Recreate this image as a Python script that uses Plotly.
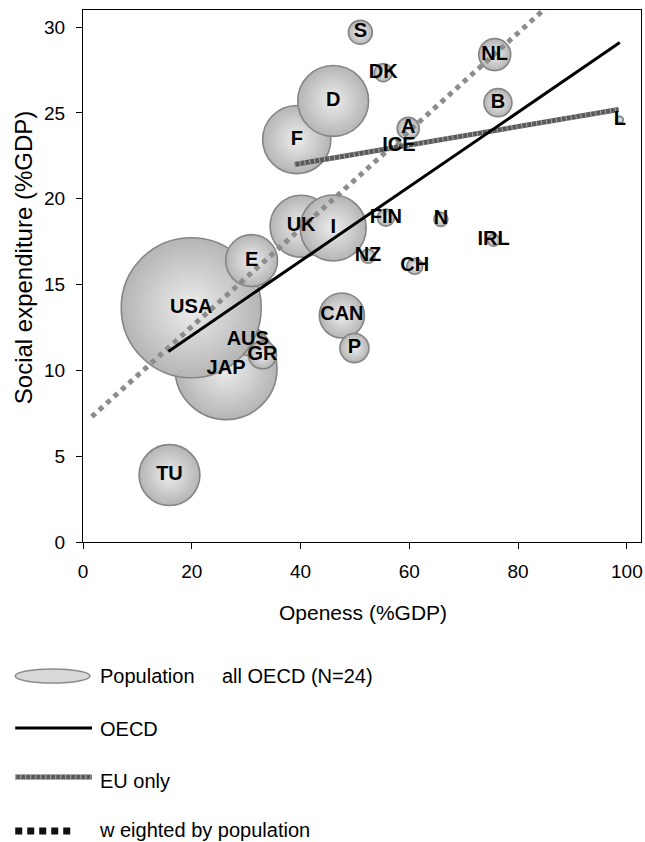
import plotly.graph_objects as go

# ---------------- data ----------------
countries = ["TU", "JAP", "AUS", "GR", "USA", "E", "UK", "I", "F", "D", "CAN", "P",
             "S", "DK", "NL", "B", "A", "ICE", "L", "NZ", "CH", "FIN", "N", "IRL"]
openness = [15.9, 26.3, 30.3, 33.0, 19.9, 31.0, 40.1, 46.0, 39.3, 46.0, 47.6, 49.9,
            51.0, 55.2, 75.7, 76.3, 59.8, 58.1, 98.7, 52.4, 61.0, 55.7, 65.8, 75.5]
social_exp = [3.9, 10.1, 11.75, 10.9, 13.65, 16.4, 18.4, 18.3, 23.45, 25.7, 13.2, 11.3,
              29.7, 27.35, 28.4, 25.6, 24.1, 23.1, 24.6, 16.65, 16.07, 18.9, 18.8, 17.58]
population = [51, 143, 12.4, 10.8, 270, 37, 53, 60, 64, 69, 28, 11.6,
              7.9, 4.5, 14.1, 10.8, 6.7, 0.5, 0.7, 2.7, 3.5, 4.0, 2.7, 2.0]

# fitted lines (end points)
oecd_x = [15.7, 98.7]
oecd_y = [11.1, 29.1]
eu_x = [38.9, 98.5]
eu_y = [22.0, 25.2]
weighted_x = [1.6, 98.7]
weighted_y = [7.3, 35.0]

x_ticks = [0, 20, 40, 60, 80, 100]
y_ticks = [0, 5, 10, 15, 20, 25, 30]

# ---------------- layout helpers ----------------
W, H = 645, 842
L, R, T, B = 83, 2, 10, 300
PW, PH = W - L - R, H - T - B


def px(xp):
    return (xp - L) / PW


def py(yp):
    return (H - B - yp) / PH


FONT = "Liberation Sans, Arial, sans-serif"
MAX_D = 140  # pixel diameter of the largest bubble

fig = go.Figure()

# bubbles
fig.add_trace(go.Scatter(
    x=openness, y=social_exp, mode="markers",
    marker=dict(size=population, sizemode="area",
                sizeref=2.0 * max(population) / MAX_D ** 2,
                color="#b5b5b5",
                gradient=dict(type="radial", color="#ededed"),
                line=dict(color="#858585", width=1.6),
                opacity=1),
    showlegend=False, hoverinfo="skip"))

# weighted-by-population line (square dots)
fig.add_trace(go.Scatter(
    x=weighted_x, y=weighted_y, mode="lines",
    line=dict(color="#8c8c8c", width=5, dash="5px,5px"),
    showlegend=False, hoverinfo="skip"))

# EU only line (textured)
fig.add_trace(go.Scatter(
    x=eu_x, y=eu_y, mode="lines",
    line=dict(color="#5a5a5a", width=5),
    showlegend=False, hoverinfo="skip"))
fig.add_trace(go.Scatter(
    x=eu_x, y=eu_y, mode="lines",
    line=dict(color="#a9a9a9", width=5, dash="1px,4px"),
    showlegend=False, hoverinfo="skip"))

# OECD line
fig.add_trace(go.Scatter(
    x=oecd_x, y=oecd_y, mode="lines",
    line=dict(color="#000000", width=3),
    showlegend=False, hoverinfo="skip"))

# country labels
fig.add_trace(go.Scatter(
    x=openness, y=social_exp, mode="text", text=countries,
    textposition="middle center",
    textfont=dict(family=FONT, size=20, color="#000000", weight="bold"),
    showlegend=False, hoverinfo="skip"))

axis_common = dict(showline=True, linecolor="#000000", linewidth=1, mirror=True,
                   showgrid=False, zeroline=False, ticks="outside", ticklen=6,
                   tickcolor="#000000", tickwidth=1,
                   tickfont=dict(family=FONT, size=19, color="#000000"))

fig.update_xaxes(range=[0, 102.6], tickvals=x_ticks, ticklabelstandoff=6, **axis_common)
fig.update_yaxes(range=[0, 31], tickvals=y_ticks, ticklabelstandoff=7, **axis_common)

annotations = [
    dict(text="Openess (%GDP)", x=px(364), y=py(612), xref="paper", yref="paper",
         showarrow=False, xanchor="center", yanchor="middle",
         font=dict(family=FONT, size=21, color="#000000")),
    dict(text="Social expenditure (%GDP)", x=px(23), y=py(258), xref="paper", yref="paper",
         showarrow=False, xanchor="center", yanchor="middle", textangle=-90,
         font=dict(family=FONT, size=24, color="#000000")),
]

legend_items = [
    ("Population", 98, 676),
    ("all OECD (N=24)", 220, 676),
    ("OECD", 98, 729),
    ("EU only", 98, 781),
    ("w eighted by population", 97, 830),
]
for txt, xp, yp in legend_items:
    annotations.append(dict(text=txt, x=px(xp), y=py(yp), xref="paper", yref="paper",
                            showarrow=False, xanchor="left", yanchor="middle",
                            font=dict(family=FONT, size=20, color="#000000")))

shapes = [
    dict(type="circle", xref="paper", yref="paper",
         x0=px(15), x1=px(90), y0=py(683), y1=py(669),
         fillcolor="#d9d9d9", line=dict(color="#8a8a8a", width=1.5)),
    dict(type="line", xref="paper", yref="paper",
         x0=px(15), x1=px(92), y0=py(728), y1=py(728),
         line=dict(color="#000000", width=3)),
    dict(type="line", xref="paper", yref="paper",
         x0=px(15), x1=px(92), y0=py(777), y1=py(777),
         line=dict(color="#5a5a5a", width=5)),
    dict(type="line", xref="paper", yref="paper",
         x0=px(15), x1=px(92), y0=py(777), y1=py(777),
         line=dict(color="#b0b0b0", width=5, dash="1px,4px")),
    dict(type="line", xref="paper", yref="paper",
         x0=px(15), x1=px(73), y0=py(831), y1=py(831),
         line=dict(color="#111111", width=7, dash="7px,5px")),
]

fig.update_layout(
    width=W, height=H,
    margin=dict(l=L, r=R, t=T, b=B, pad=0),
    paper_bgcolor="#ffffff", plot_bgcolor="#ffffff",
    annotations=annotations, shapes=shapes,
    font=dict(family=FONT, size=19, color="#000000"),
    showlegend=False,
)

fig.write_html("out.html",
               config={"displayModeBar": False},
               post_script="document.body.style.margin='0px';document.body.style.overflow='hidden';")
